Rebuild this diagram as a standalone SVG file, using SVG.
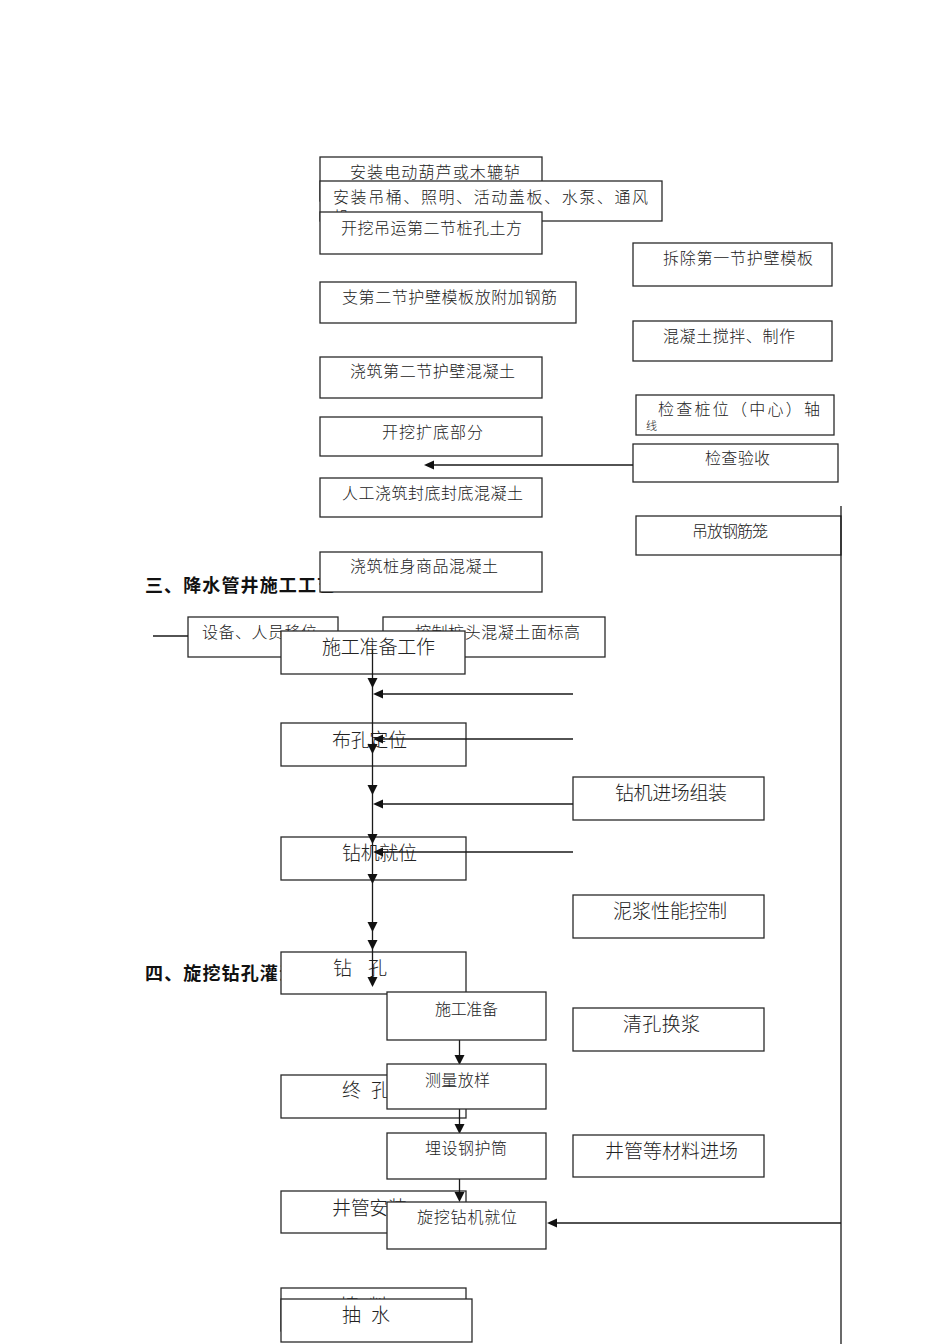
<svg xmlns="http://www.w3.org/2000/svg" width="950" height="1344" viewBox="0 0 950 1344">
  <style>
    .box { fill: #ffffff; stroke: #2a2a2a; stroke-width: 1.3; }
    .t { font-family: "Noto Sans CJK SC", "DejaVu Sans", sans-serif; fill: #222222; font-weight: 300; }
    .s15 { font-size: 16px; }
    .s18 { font-size: 19px; }
    .h { font-family: "Noto Sans CJK SC", "DejaVu Sans", sans-serif; font-size: 18px; font-weight: 700; fill: #111111; }
    .ln { stroke: #1a1a1a; stroke-width: 1.3; fill: none; }
    .ah { fill: #111111; }
  </style>
  <defs>
    <!-- arrowheads: tip at origin -->
    <path id="down" class="ah" d="M-5,-10 L5,-10 L0,0 Z"/>
    <path id="left" class="ah" d="M0,0 L10,-4.5 L10,4.5 Z"/>
  </defs>

  <rect width="950" height="1344" fill="#ffffff"/>

  <!-- pile hole excavation steps -->
  <g id="n-hoist">
    <rect class="box" x="320" y="157" width="222" height="44"/>
    <text class="t s15" x="350" y="178" textLength="170" lengthAdjust="spacing">安装电动葫芦或木辘轳</text>
  </g>
  <g id="n-bucket">
    <rect class="box" x="320" y="181" width="342" height="40"/>
    <text class="t s15" x="333" y="203" textLength="315" lengthAdjust="spacing">安装吊桶、照明、活动盖板、水泵、通风</text>
    <text class="t s15" x="333" y="223">机</text>
  </g>
  <g id="n-excavate2">
    <rect class="box" x="320" y="212" width="222" height="42"/>
    <text class="t s15" x="341" y="234" textLength="181" lengthAdjust="spacing">开挖吊运第二节桩孔土方</text>
  </g>
  <g id="n-remove-form">
    <rect class="box" x="633" y="243" width="199" height="43"/>
    <text class="t s15" x="663" y="264" textLength="150" lengthAdjust="spacing">拆除第一节护壁模板</text>
  </g>
  <g id="n-form2">
    <rect class="box" x="320" y="282" width="256" height="41"/>
    <text class="t s15" x="342" y="303" textLength="215" lengthAdjust="spacing">支第二节护壁模板放附加钢筋</text>
  </g>
  <g id="n-mix">
    <rect class="box" x="633" y="321" width="199" height="40"/>
    <text class="t s15" x="663" y="342" textLength="132" lengthAdjust="spacing">混凝土搅拌、制作</text>
  </g>
  <g id="n-pour2">
    <rect class="box" x="320" y="357" width="222" height="41"/>
    <text class="t s15" x="350" y="377" textLength="165" lengthAdjust="spacing">浇筑第二节护壁混凝土</text>
  </g>
  <g id="n-axis">
    <rect class="box" x="636" y="395" width="198" height="40"/>
    <text class="t s15" x="658" y="415" textLength="162" lengthAdjust="spacing">检查桩位（中心）轴</text>
    <text class="t" x="646" y="430" font-size="11">线</text>
  </g>
  <g id="n-bell">
    <rect class="box" x="320" y="417" width="222" height="39"/>
    <text class="t s15" x="382" y="438" textLength="101" lengthAdjust="spacing">开挖扩底部分</text>
  </g>
  <g id="n-inspect">
    <rect class="box" x="633" y="444" width="205" height="38"/>
    <text class="t s15" x="705" y="464" textLength="65" lengthAdjust="spacing">检查验收</text>
  </g>
  <g id="n-seal">
    <rect class="box" x="320" y="478" width="222" height="39"/>
    <text class="t s15" x="342" y="499" textLength="181" lengthAdjust="spacing">人工浇筑封底封底混凝土</text>
  </g>
  <g id="n-cage">
    <rect class="box" x="636" y="516" width="205" height="39"/>
    <text class="t s15" x="692" y="537" textLength="76" lengthAdjust="spacing">吊放钢筋笼</text>
  </g>

  <!-- section heading: dewatering wells -->
  <text class="h" x="145" y="592" textLength="190" lengthAdjust="spacing">三、降水管井施工工艺</text>

  <g id="n-pour-pile">
    <rect class="box" x="320" y="552" width="222" height="40"/>
    <text class="t s15" x="350" y="572" textLength="148" lengthAdjust="spacing">浇筑桩身商品混凝土</text>
  </g>
  <g id="n-move">
    <rect class="box" x="188" y="617" width="150" height="40"/>
    <text class="t s15" x="202" y="638" textLength="115" lengthAdjust="spacing">设备、人员移位</text>
  </g>
  <g id="n-head-level">
    <rect class="box" x="383" y="617" width="222" height="40"/>
    <text class="t s15" x="415" y="638" textLength="165" lengthAdjust="spacing">控制桩头混凝土面标高</text>
  </g>

  <!-- dewatering well flow -->
  <g id="n-prep">
    <rect class="box" x="281" y="631" width="184" height="43"/>
    <text class="t s18" x="322" y="654" textLength="113" lengthAdjust="spacing">施工准备工作</text>
  </g>
  <g id="n-layout">
    <rect class="box" x="281" y="723" width="185" height="43"/>
    <text class="t s18" x="332" y="747" textLength="75" lengthAdjust="spacing">布孔定位</text>
  </g>
  <g id="n-rig-assembly">
    <rect class="box" x="573" y="777" width="191" height="43"/>
    <text class="t s18" x="615" y="800" textLength="112" lengthAdjust="spacing">钻机进场组装</text>
  </g>
  <g id="n-rig-position">
    <rect class="box" x="281" y="837" width="185" height="43"/>
    <text class="t s18" x="342" y="860" textLength="75" lengthAdjust="spacing">钻机就位</text>
  </g>
  <g id="n-mud">
    <rect class="box" x="573" y="895" width="191" height="43"/>
    <text class="t s18" x="613" y="918" textLength="114" lengthAdjust="spacing">泥浆性能控制</text>
  </g>

  <!-- section heading: rotary bored piles -->
  <text class="h" x="145" y="980" textLength="152" lengthAdjust="spacing">四、旋挖钻孔灌注</text>

  <g id="n-drill">
    <rect class="box" x="281" y="952" width="185" height="42"/>
    <text class="t s18" x="333" y="975" xml:space="preserve" textLength="54" lengthAdjust="spacing">钻 孔</text>
  </g>
  <g id="n-clean">
    <rect class="box" x="573" y="1008" width="191" height="43"/>
    <text class="t s18" x="623" y="1031" textLength="77" lengthAdjust="spacing">清孔换浆</text>
  </g>
  <g id="n-final">
    <rect class="box" x="281" y="1075" width="185" height="43"/>
    <text class="t s18" x="342" y="1097" xml:space="preserve" textLength="48" lengthAdjust="spacing">终 孔</text>
  </g>
  <g id="n-materials">
    <rect class="box" x="573" y="1135" width="191" height="42"/>
    <text class="t s18" x="605" y="1158" textLength="133" lengthAdjust="spacing">井管等材料进场</text>
  </g>
  <g id="n-pipe">
    <rect class="box" x="281" y="1191" width="185" height="42"/>
    <text class="t s18" x="332" y="1215" textLength="75" lengthAdjust="spacing">井管安装</text>
  </g>
  <g id="n-fill">
    <rect class="box" x="281" y="1288" width="185" height="43"/>
    <text class="t s18" x="340" y="1313" xml:space="preserve" textLength="48" lengthAdjust="spacing">填 料</text>
  </g>
  <g id="n-pump">
    <rect class="box" x="281" y="1299" width="191" height="43"/>
    <text class="t s18" x="342" y="1322" xml:space="preserve" textLength="48" lengthAdjust="spacing">抽 水</text>
  </g>

  <!-- connectors -->
  <g id="connectors">
    <line class="ln" x1="633" y1="465" x2="426" y2="465"/>
    <use href="#left" x="424" y="465"/>
    <line class="ln" x1="841" y1="506" x2="841" y2="1344"/>
    <line class="ln" x1="841" y1="1223" x2="550" y2="1223"/>
    <use href="#left" x="547" y="1223"/>
    <line class="ln" x1="153" y1="636" x2="188" y2="636"/>

    <line class="ln" x1="372.5" y1="650" x2="372.5" y2="985"/>
    <use href="#down" x="372.5" y="688"/>
    <use href="#down" x="372.5" y="754"/>
    <use href="#down" x="372.5" y="795"/>
    <use href="#down" x="372.5" y="844"/>
    <use href="#down" x="372.5" y="884"/>
    <use href="#down" x="372.5" y="932"/>
    <use href="#down" x="372.5" y="950"/>
    <use href="#down" x="372.5" y="987"/>

    <line class="ln" x1="573" y1="694" x2="380" y2="694"/>
    <use href="#left" x="373" y="694"/>
    <line class="ln" x1="573" y1="739" x2="380" y2="739"/>
    <use href="#left" x="373" y="739"/>
    <line class="ln" x1="573" y1="804" x2="380" y2="804"/>
    <use href="#left" x="373" y="804"/>
    <line class="ln" x1="573" y1="852" x2="380" y2="852"/>
    <use href="#left" x="373" y="852"/>

    <line class="ln" x1="459.5" y1="1038" x2="459.5" y2="1058"/>
    <use href="#down" x="459.5" y="1065"/>
    <line class="ln" x1="459.5" y1="1107" x2="459.5" y2="1128"/>
    <use href="#down" x="459.5" y="1134"/>
    <line class="ln" x1="459.5" y1="1177" x2="459.5" y2="1196"/>
    <use href="#down" x="459.5" y="1202"/>
  </g>

  <!-- rotary bored pile flow -->
  <g id="n-bp-prep">
    <rect class="box" x="387" y="992" width="159" height="48"/>
    <text class="t s15" x="435" y="1015" textLength="63" lengthAdjust="spacing">施工准备</text>
  </g>
  <g id="n-survey">
    <rect class="box" x="387" y="1064" width="159" height="45"/>
    <text class="t s15" x="425" y="1086" textLength="65" lengthAdjust="spacing">测量放样</text>
  </g>
  <g id="n-casing">
    <rect class="box" x="387" y="1133" width="159" height="46"/>
    <text class="t s15" x="425" y="1154" textLength="82" lengthAdjust="spacing">埋设钢护筒</text>
  </g>
  <g id="n-rotary-rig">
    <rect class="box" x="387" y="1202" width="159" height="47"/>
    <text class="t s15" x="417" y="1223" textLength="100" lengthAdjust="spacing">旋挖钻机就位</text>
  </g>
</svg>
